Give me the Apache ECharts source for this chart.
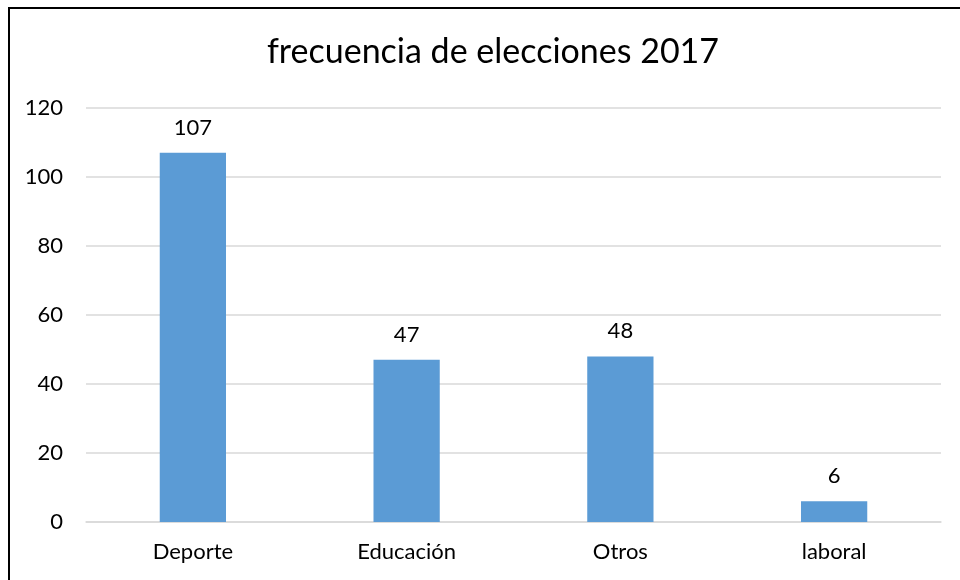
<!DOCTYPE html>
<html>
<head>
<meta charset="utf-8">
<script src="https://cdn.jsdelivr.net/npm/echarts@6/dist/echarts.min.js"></script>
<style>
  html, body { margin: 0; padding: 0; background: #fff; }
  #chart { width: 960px; height: 580px; }
</style>
</head>
<body>
<div id="chart"></div>
<script>
// Category names and counts
const categories = ['Deporte', 'Educación', 'Otros', 'laboral'];
const counts = [107, 47, 48, 6];
const yTicks = { min: 0, max: 120, step: 20 };

const chart = echarts.init(document.getElementById('chart'), null, { renderer: 'canvas' });
const font = 'Lato, "Open Sans", "Liberation Sans", sans-serif';

chart.setOption({
  animation: false,
  backgroundColor: '#ffffff',
  title: {
    text: 'frecuencia de elecciones 2017',
    left: 488,
    textAlign: 'center',
    top: 30,
    textStyle: { fontFamily: font, fontSize: 34, fontWeight: 'normal', color: '#000000' }
  },
  graphic: [{
    type: 'rect',
    shape: { x: 9, y: 8, width: 1000, height: 1000 },
    style: { fill: 'none', stroke: '#000000', lineWidth: 2 },
    silent: true
  }],
  grid: { left: 86, right: 19, top: 108, bottom: 58, containLabel: false },
  xAxis: {
    type: 'category',
    data: categories,
    axisLine: { show: true, lineStyle: { color: '#d9d9d9', width: 1.5 } },
    axisTick: { show: false },
    axisLabel: { fontFamily: font, fontSize: 22, color: '#000000', margin: 19 }
  },
  yAxis: {
    type: 'value',
    min: yTicks.min,
    max: yTicks.max,
    interval: yTicks.step,
    axisLine: { show: false },
    axisTick: { show: false },
    axisLabel: { fontFamily: font, fontSize: 22, color: '#000000', margin: 23 },
    splitLine: { lineStyle: { color: '#d9d9d9', width: 1.5 } }
  },
  series: [{
    type: 'bar',
    data: counts,
    barWidth: '31%',
    itemStyle: { color: '#5b9bd5' },
    label: {
      show: true,
      position: 'top',
      distance: 14,
      fontFamily: font,
      fontSize: 22,
      color: '#000000'
    }
  }]
});
</script>
</body>
</html>
